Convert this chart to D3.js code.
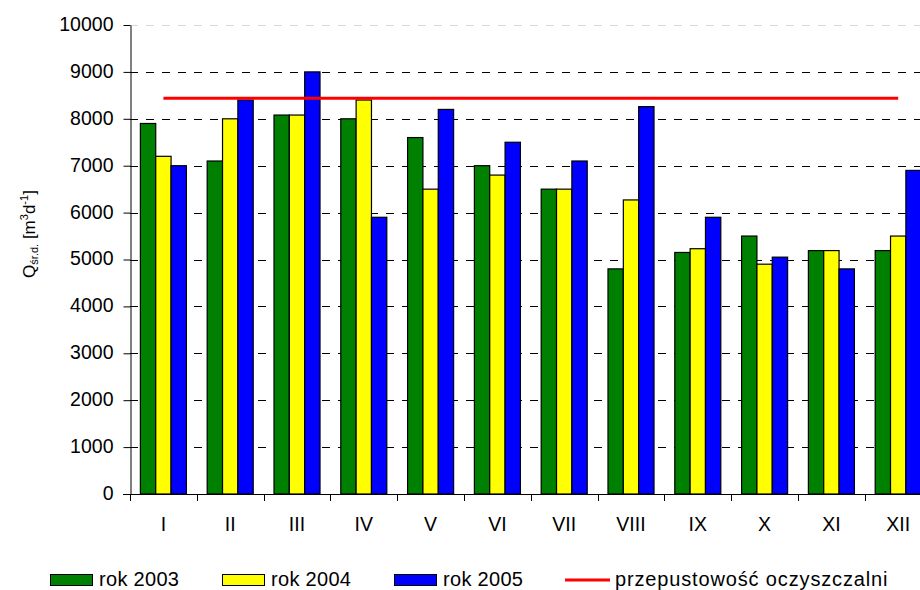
<!DOCTYPE html>
<html>
<head>
<meta charset="utf-8">
<script src="https://cdn.jsdelivr.net/npm/d3@7"></script>
<style>
  html, body { margin: 0; padding: 0; background: #fff; }
  svg { display: block; font-family: "Liberation Sans", Arial, sans-serif; }
</style>
</head>
<body>
<svg id="chart" width="920" height="590"></svg>
<script>
// ---- data ----
const categories = ["I", "II", "III", "IV", "V", "VI", "VII", "VIII", "IX", "X", "XI", "XII"];
const seriesNames = ["rok 2003", "rok 2004", "rok 2005"];
const rok2003 = [7900, 7100, 8080, 8000, 7600, 7000, 6500, 4800, 5150, 5500, 5190, 5190];
const rok2004 = [7200, 8000, 8080, 8400, 6500, 6800, 6500, 6270, 5230, 4900, 5190, 5500];
const rok2005 = [7000, 8400, 9000, 5900, 8200, 7500, 7100, 8260, 5900, 5050, 4800, 6900];
const capacityLabel = "przepustowość oczyszczalni";
const capacity = 8440;
const yTicks = [0, 1000, 2000, 3000, 4000, 5000, 6000, 7000, 8000, 9000, 10000];
const colors = ["#008000", "#FFFF00", "#0000FF"];

const seriesValues = [rok2003, rok2004, rok2005];

(function () {
const svg = d3.select("#chart");

const plotLeft = 130, plotTop = 25, plotBottom = 494;
const step = 66.8;
const plotRight = plotLeft + step * categories.length;

const x = d3.scaleBand().domain(categories).range([plotLeft, plotRight]).paddingInner(0.311).paddingOuter(0.1555);
const xs = d3.scaleBand().domain(seriesNames).range([0, x.bandwidth()]);
const y = d3.scaleLinear().domain([0, 10000]).range([plotBottom, plotTop]);

// gridlines
svg.append("g").selectAll("line").data(yTicks.filter(d => d > 0)).join("line")
  .attr("x1", plotLeft).attr("x2", 930)
  .attr("y1", d => Math.round(y(d)) + 0.5).attr("y2", d => Math.round(y(d)) + 0.5)
  .attr("stroke", d => d === 10000 ? "#d8d8d8" : "#000")
  .attr("stroke-width", 1)
  .attr("stroke-dasharray", "8,8");

// bars
const groups = svg.append("g").selectAll("g").data(categories).join("g")
  .attr("transform", c => `translate(${x(c)},0)`);
groups.selectAll("rect").data((c, i) => seriesNames.map((s, k) => ({ s, k, v: seriesValues[k][i] }))).join("rect")
  .attr("x", d => xs(d.s))
  .attr("y", d => y(d.v))
  .attr("width", xs.bandwidth())
  .attr("height", d => y(0) - y(d.v))
  .attr("fill", d => colors[d.k])
  .attr("stroke", "#000")
  .attr("stroke-width", 1.2);

// capacity line
svg.append("line")
  .attr("x1", x(categories[0]) + x.bandwidth() / 2)
  .attr("x2", x(categories[categories.length - 1]) + x.bandwidth() / 2)
  .attr("y1", y(capacity)).attr("y2", y(capacity))
  .attr("stroke", "#FF0000").attr("stroke-width", 3);

// y axis
const yAxis = svg.append("g").attr("transform", `translate(${plotLeft + 0.5},0)`)
  .call(d3.axisLeft(y).tickValues(yTicks).tickSize(7).tickPadding(10).tickSizeOuter(0).tickFormat(d3.format("d")));
yAxis.select(".domain").attr("stroke", "#000");
yAxis.selectAll(".tick line").attr("stroke", "#000");
yAxis.selectAll(".tick text").attr("font-size", 19.5).attr("fill", "#000").attr("dy", "0.28em")
  .attr("font-family", "Liberation Sans, Arial, sans-serif");

// x axis
svg.append("line").attr("x1", plotLeft - 7).attr("x2", 920).attr("y1", plotBottom + 0.5).attr("y2", plotBottom + 0.5).attr("stroke", "#000");
const boundaries = d3.range(categories.length + 1).map(i => plotLeft + i * x.step());
svg.append("g").selectAll("line").data(boundaries).join("line")
  .attr("x1", d => Math.round(d) + 0.5).attr("x2", d => Math.round(d) + 0.5)
  .attr("y1", plotBottom).attr("y2", plotBottom + 7)
  .attr("stroke", "#000");
svg.append("g").selectAll("text").data(categories).join("text")
  .attr("x", c => x(c) + x.bandwidth() / 2)
  .attr("y", 531)
  .attr("text-anchor", "middle")
  .attr("font-size", 19.5)
  .attr("fill", "#000")
  .text(c => c);

// y axis title
const yt = svg.append("text")
  .attr("transform", "translate(35,234) rotate(-90)")
  .attr("text-anchor", "middle")
  .attr("font-size", 17)
  .attr("fill", "#000");
yt.append("tspan").text("Q");
yt.append("tspan").attr("font-size", 11).attr("dy", 3).text("śr.d.");
yt.append("tspan").attr("dy", -3).text(" [m");
yt.append("tspan").attr("font-size", 11).attr("dy", -7).text("3");
yt.append("tspan").attr("dy", 7).text("d");
yt.append("tspan").attr("font-size", 11).attr("dy", -7).text("-1");
yt.append("tspan").attr("dy", 7).text("]");

// legend
const legendX = [50, 222, 394];
const legend = svg.append("g");
seriesNames.forEach((s, k) => {
  legend.append("rect").attr("x", legendX[k] + 0.5).attr("y", 574.5).attr("width", 42).attr("height", 11)
    .attr("fill", colors[k]).attr("stroke", "#000").attr("stroke-width", 1);
  legend.append("text").attr("x", legendX[k] + 49).attr("y", 586)
    .attr("font-size", 20).attr("letter-spacing", 0.3).attr("fill", "#000").text(s);
});
legend.append("line").attr("x1", 565).attr("x2", 610).attr("y1", 580).attr("y2", 580)
  .attr("stroke", "#FF0000").attr("stroke-width", 3);
legend.append("text").attr("x", 615).attr("y", 586)
  .attr("font-size", 20).attr("letter-spacing", 0.85).attr("fill", "#000").text(capacityLabel);
})();
</script>
</body>
</html>
